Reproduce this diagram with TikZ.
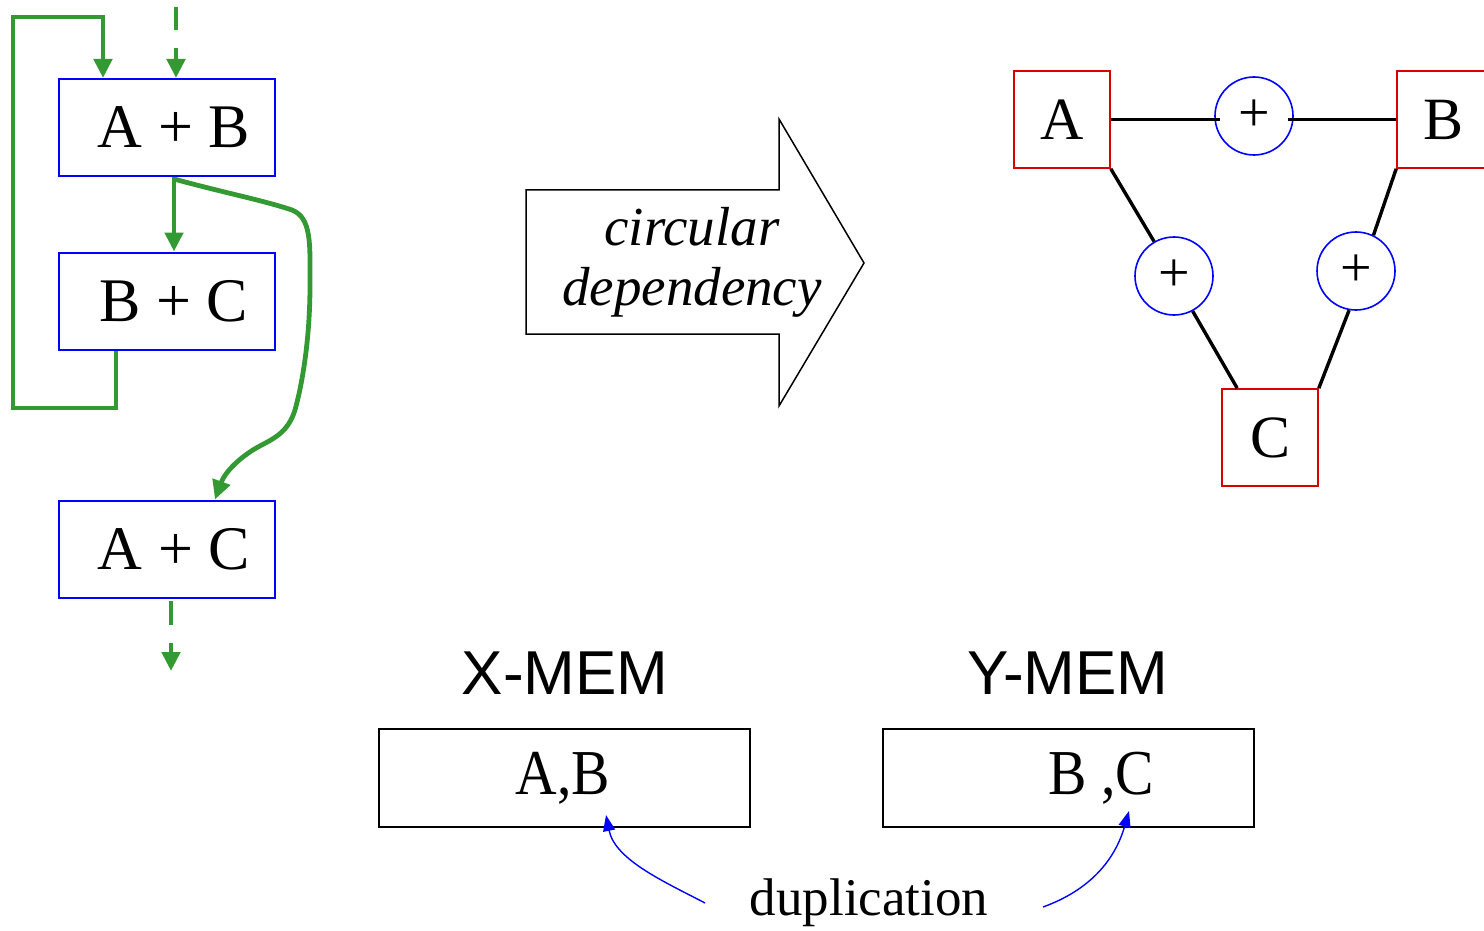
\documentclass[tikz,border=0pt]{standalone}
\usepackage{fontspec}
\setmainfont{Liberation Serif}
\newfontfamily\arialf{Liberation Sans}
\usetikzlibrary{arrows.meta}
\definecolor{dgreen}{RGB}{51,153,51}
\tikzset{
  bluebox/.style={draw=blue, line width=1pt, minimum width=108pt, minimum height=48.5pt, inner sep=0pt, font=\fontsize{31}{31}\selectfont},
  redbox/.style={draw=red!85!black, line width=0.8pt, minimum width=48pt, minimum height=48.5pt, inner sep=0pt, font=\fontsize{30}{30}\selectfont},
  pluscirc/.style={circle, draw=blue, line width=0.8pt, minimum size=39pt, inner sep=0pt, font=\fontsize{28}{28}\selectfont},
  membox/.style={draw=black, line width=0.8pt, minimum width=185.5pt, minimum height=49pt, inner sep=0pt},
  gline/.style={draw=dgreen, line width=2.4pt},
  garrow/.style={gline, -{Triangle[width=9pt,length=9.5pt]}},
  kline/.style={draw=black, line width=1.7pt},
  barrow/.style={draw=blue, line width=0.7pt, -{Triangle[width=6pt,length=8pt]}},
  memlabel/.style={font=\arialf\fontsize{31}{31}\selectfont},
  memtext/.style={font=\fontsize{32}{32}\selectfont, xscale=0.9},
}
\begin{document}
\begin{tikzpicture}[x=0.5pt,y=-0.5pt]
\useasboundingbox (0,0) rectangle (1484,931);

% left flow
\node[bluebox] (ab) at (167,127.5) {\hspace*{7pt}A + B};
\node[bluebox] (bc) at (167,301) {\hspace*{7pt}B + C};
\node[bluebox] (ac) at (167,549) {\hspace*{7pt}A + C};

\coordinate (intop) at (176,7);
\coordinate (lp1) at (116,408);
\coordinate (lp2) at (13,408);
\coordinate (lp3) at (13,17);
\coordinate (lp4) at (103,17);
\coordinate (outs) at (171,601);
\coordinate (oute) at (171,671);

\draw[garrow, dash pattern=on 11.5pt off 9pt on 30pt] (intop) -- (intop |- ab.north);
\draw[garrow] (bc.south -| lp1) -- (lp1) -- (lp2) -- (lp3) -- (lp4) -- (lp4 |- ab.north);
\draw[garrow] ([xshift=3.5pt]ab.south) -- ([xshift=3.5pt]bc.north);
\draw[garrow] ([xshift=3.5pt,yshift=-1pt]ab.south) .. controls (225,193) and (262,200) .. (292,210)
  .. controls (312,218) and (310,245) .. (310,285)
  .. controls (310,340) and (302,385) .. (295,410)
  .. controls (288,432) and (275,438) .. (258,447)
  .. controls (240,457) and (225,472) .. ([xshift=24pt]ac.north);
\draw[garrow, dash pattern=on 12pt off 9pt on 30pt] (outs) -- (oute);

% big arrow
\draw[line width=0.75pt] (526,190) -- (779,190) -- (779,119) -- (864,263) -- (779,406) -- (779,334) -- (526,334) -- cycle;
\node[font=\itshape\fontsize{27.5}{30}\selectfont, align=center] (circ) at (692,262) {circular\\dependency};

% right graph
\node[redbox] (A) at (1062,119.5) {A};
\node[redbox] (B) at (1445,119.5) {\hspace*{-2pt}B};
\node[redbox] (C) at (1270,437.5) {C};
\node[pluscirc] (c1) at (1254,116) {+};
\node[pluscirc] (c2) at (1174,276) {+};
\node[pluscirc] (c3) at (1356,271) {+};

\draw[kline] (A.east) -- ([xshift=3pt]A.east -| c1.west);
\draw[kline] ([xshift=-3pt]B.west -| c1.east) -- (B.west);
\draw[kline] (A.south east) -- (c2.120);
\draw[kline] (c2.-62) -- ([xshift=8pt]C.north west);
\draw[kline] (B.south west) -- (c3.64);
\draw[kline] (c3.-100) -- (C.north east);

% memories
\node[memlabel] (xl) at (565,673) {X-MEM};
\node[memlabel] (yl) at (1068,673) {Y-MEM};
\node[membox] (xm) at (564.5,778) {};
\node[membox] (ym) at (1068.5,778) {};
\node[memtext] (xt) at (563,778) {A,B};
\node[memtext] (yt) at (1101,778) {B ,C};

\node[font=\fontsize{26.5}{26.5}\selectfont] (dup) at (869,903) {duplication};
\coordinate (dl) at (705,903);
\coordinate (dr) at (1043,907);
\draw[barrow] (dl) .. controls (665,882) and (615,860) .. (606,815);
\draw[barrow] (dr) .. controls (1090,890) and (1115,860) .. (1129,811);
\end{tikzpicture}
\end{document}
